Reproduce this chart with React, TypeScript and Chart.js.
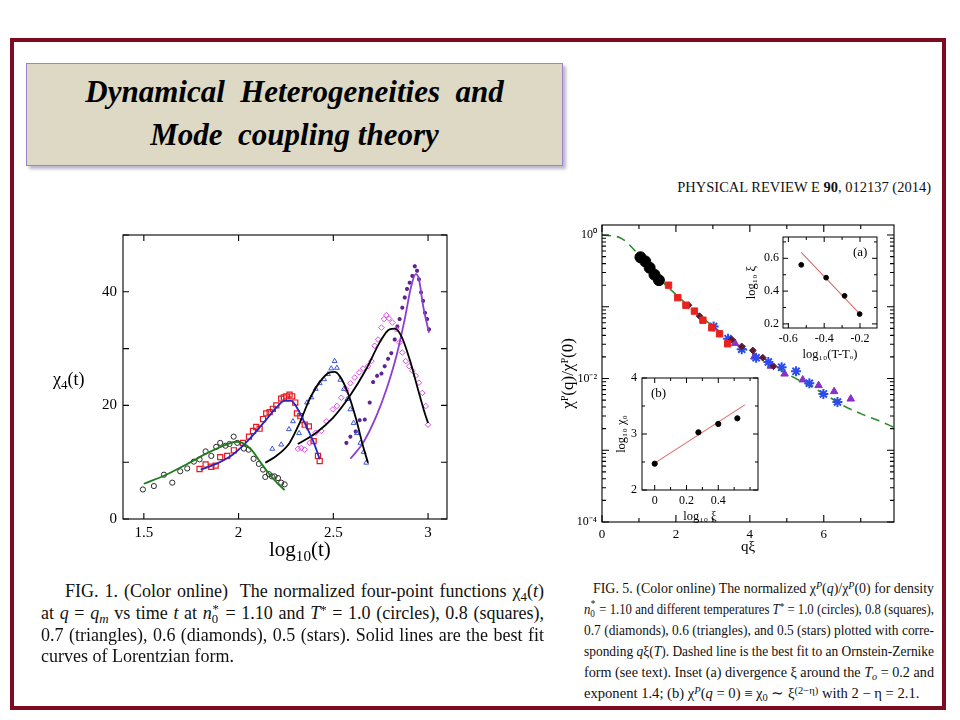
import React, { useEffect, useLayoutEffect, useRef } from 'react';
import { Chart, registerables } from 'chart.js';

Chart.register(...registerables);

const FONT = "'Liberation Serif', 'Times New Roman', Times, serif";
Chart.defaults.font.family = FONT;
Chart.defaults.color = '#000';

// ---------------- FIG. 1 data (log10 t , chi4) ----------------
const circT = [1.495, 1.553, 1.606, 1.65, 1.692, 1.729, 1.764, 1.794, 1.826, 1.856, 1.882, 1.903, 1.931, 1.952, 1.974, 1.993, 2.028, 2.053, 2.079, 2.107, 2.129, 2.141, 2.16, 2.176, 2.19, 2.208, 2.225, 2.243];
const circChi = [5.2, 5.8, 7.8, 6.4, 8.4, 8.9, 10.1, 10.5, 11.9, 11.1, 12.7, 13.4, 12.9, 13.2, 14.5, 13.4, 12.4, 12.2, 10.6, 9.7, 8.7, 7.4, 7.9, 7.5, 7.5, 7.2, 6.4, 6.1];
const greenFitT = [1.5, 1.618, 1.724, 1.829, 1.935, 1.988, 2.02, 2.067, 2.111, 2.164, 2.208, 2.243];
const greenFitChi = [6.2, 7.8, 9.6, 11.5, 13.1, 13.6, 13.4, 12.2, 10.2, 7.8, 6.2, 5.1];

const sqT = [1.794, 1.826, 1.856, 1.879, 1.903, 1.94, 1.975, 2.023, 2.055, 2.076, 2.093, 2.111, 2.129, 2.146, 2.164, 2.181, 2.199, 2.225, 2.239, 2.252, 2.269, 2.283, 2.299, 2.308, 2.326, 2.349, 2.371, 2.396, 2.419, 2.428];
const sqChi = [8.8, 9.6, 9.2, 9.4, 10.9, 11.1, 12.1, 13.4, 14.5, 15.5, 16.2, 15.9, 17.6, 18.6, 18.8, 19.4, 20.0, 21.2, 21.4, 21.6, 21.9, 21.6, 20.5, 18.6, 18.1, 16.6, 16.3, 13.7, 11.1, 10.2];
const blueFitT = [1.8, 1.882, 1.97, 2.058, 2.146, 2.199, 2.243, 2.278, 2.313, 2.357, 2.401, 2.428];
const blueFitChi = [8.7, 9.7, 11.35, 14.1, 17.5, 19.6, 20.8, 20.8, 19.3, 16.35, 13.1, 10.5];

const triT = [2.178, 2.225, 2.266, 2.287, 2.319, 2.336, 2.361, 2.384, 2.407, 2.428, 2.451, 2.472, 2.489, 2.507, 2.519, 2.537, 2.556, 2.574, 2.59, 2.607, 2.625, 2.643, 2.66, 2.674];
const triChi = [12.35, 13.1, 15.8, 17.2, 15.1, 17.2, 20.5, 21.4, 22.9, 23.9, 24.6, 25.5, 26.5, 27.8, 26.6, 24.5, 22.9, 21.1, 19.3, 16.9, 15.1, 13.4, 11.8, 9.9];
const blackFit1T = [2.141, 2.199, 2.269, 2.322, 2.375, 2.428, 2.481, 2.507, 2.533, 2.577, 2.621, 2.657, 2.683];
const blackFit1Chi = [9.9, 11.1, 13.4, 16.9, 21.1, 24.1, 25.8, 25.9, 25.2, 22.2, 17.5, 12.8, 9.9];

const diaT = [2.313, 2.331, 2.349, 2.375, 2.407, 2.437, 2.463, 2.498, 2.519, 2.542, 2.569, 2.59, 2.613, 2.636, 2.657, 2.683, 2.701, 2.718, 2.736, 2.754, 2.768, 2.78, 2.794, 2.812, 2.833, 2.85, 2.864, 2.882, 2.9, 2.917, 2.935, 2.952, 2.97, 2.988, 3.0];
const diaChi = [12.35, 12.5, 12.2, 13.4, 15.2, 15.5, 17.2, 19.3, 19.9, 21.35, 22.8, 23.9, 24.9, 25.8, 26.5, 26.9, 27.8, 30.5, 31.6, 33.7, 35.2, 35.9, 35.3, 34.6, 33.4, 31.1, 29.3, 27.8, 26.9, 26.1, 25.2, 24.0, 22.2, 19.9, 16.6];
const blackFit2T = [2.313, 2.41, 2.498, 2.586, 2.674, 2.745, 2.797, 2.824, 2.859, 2.903, 2.947, 2.982, 3.0];
const blackFit2Chi = [13.2, 15.2, 17.8, 21.6, 26.4, 31.1, 33.4, 33.5, 32.2, 28.1, 22.8, 18.7, 16.9];

const starT = [2.569, 2.59, 2.618, 2.639, 2.666, 2.692, 2.71, 2.731, 2.754, 2.771, 2.789, 2.806, 2.824, 2.838, 2.85, 2.864, 2.877, 2.889, 2.903, 2.917, 2.93, 2.942, 2.952, 2.963, 2.974, 2.984, 2.995, 3.005];
const starChi = [13.4, 14.5, 15.4, 17.4, 17.5, 20.5, 24.1, 25.2, 25.6, 26.9, 28.2, 29.2, 31.6, 33.9, 35.2, 37.2, 39.0, 40.5, 41.6, 42.8, 44.5, 43.7, 42.2, 39.9, 38.4, 36.3, 35.2, 33.4];
const purpleFitT = [2.59, 2.657, 2.727, 2.78, 2.833, 2.877, 2.912, 2.935, 2.952, 2.974, 3.005];
const purpleFitChi = [10.6, 13.4, 18.1, 22.8, 28.7, 35.2, 41.1, 43.1, 42.2, 37.5, 32.8];

const fig1XLabels = [1.5, 2, 2.5, 3];
const fig1YLabels = [0, 20, 40];

// ---------------- FIG. 5 data (q xi , chi(q)/chi(0)) ----------------
const c5Q = [1.04, 1.17, 1.29, 1.42, 1.54];
const c5V = [0.49, 0.43, 0.35, 0.28, 0.235];
const s5Q = [1.8, 2.05, 2.27, 2.5, 2.73, 2.97, 3.18, 3.4];
const s5V = [0.2, 0.134, 0.105, 0.087, 0.065, 0.051, 0.042, 0.0305];
const d5Q = [2.34, 2.64, 3.51, 3.78, 4.08, 4.35, 4.64];
const d5V = [0.105, 0.074, 0.035, 0.028, 0.0246, 0.0195, 0.0148];
const t5Q = [3.6, 4.12, 4.57, 4.94, 5.43, 5.86, 6.28, 6.73];
const t5V = [0.031, 0.02, 0.0149, 0.0116, 0.0096, 0.008, 0.0066, 0.0052];
const st5Q = [3.02, 3.41, 3.78, 4.17, 4.5, 4.86, 5.25, 5.61, 5.99, 6.37];
const st5V = [0.053, 0.0359, 0.0256, 0.0195, 0.017, 0.0144, 0.0126, 0.0086, 0.0061, 0.0047];
const ozQ = [0, 0.5, 1, 1.5, 2, 2.5, 3, 3.5, 4, 4.5, 5, 5.5, 6, 6.5, 7, 7.5, 7.9];
const ozV = [1.0, 0.912, 0.525, 0.263, 0.148, 0.0871, 0.0537, 0.0347, 0.0234, 0.0166, 0.0117, 0.00851, 0.00617, 0.00427, 0.00324, 0.00257, 0.00209];

const fig5XLabels = [0, 2, 4, 6];
const logDecades = [1e-4, 1e-3, 1e-2, 1e-1, 1];
const logLabelVals = [1, 1e-2, 1e-4];
const logLabelText = ['10\u2070', '10\u207B\u00B2', '10\u207B\u2074'];

// inset (a)
const aX = [-0.528, -0.389, -0.286, -0.202];
const aY = [0.56, 0.482, 0.371, 0.26];
const aFitX = [-0.528, -0.2];
const aFitY = [0.636, 0.26];
const aXLabels = [-0.6, -0.4, -0.2];
const aYLabels = [0.2, 0.4, 0.6];

// inset (b)
const bX = [0, 0.275, 0.4, 0.52];
const bY = [2.47, 3.03, 3.18, 3.28];
const bFitX = [0, 0.567];
const bFitY = [2.48, 3.52];
const bXLabels = [0, 0.2, 0.4];
const bYLabels = [2, 3, 4];

// ---------------- helpers ----------------
const xy = (xs: number[], ys: number[]) => xs.map((x, i) => ({ x, y: ys[i] }));

function markers(xs: number[], ys: number[], style: string, color: string, radius: number, filled: boolean, bw = 1) {
  return {
    type: 'scatter',
    data: xy(xs, ys),
    showLine: false,
    pointStyle: style,
    pointRadius: radius,
    pointBorderColor: color,
    pointBackgroundColor: filled ? color : 'rgba(0,0,0,0)',
    pointBorderWidth: bw,
    borderColor: color,
    backgroundColor: color,
  };
}

function curve(xs: number[], ys: number[], color: string, width: number, dash: number[] = [], smooth = true) {
  return {
    type: 'line',
    data: xy(xs, ys),
    showLine: true,
    pointRadius: 0,
    borderColor: color,
    borderWidth: width,
    borderDash: dash,
    cubicInterpolationMode: smooth ? 'monotone' : 'default',
    tension: 0,
    fill: false,
  };
}

const labelAt = (vals: number[], fmt: (v: number) => string = (v) => String(v)) => (v: any) => {
  const n = Number(v);
  return vals.some((u) => Math.abs(u - n) < 1e-6) ? fmt(n) : '';
};

const boxTicks = {
  id: 'boxTicks',
  afterDraw(chart: any, _args: any, opts: any) {
    const { ctx, chartArea: a, scales } = chart;
    const xs = scales.x;
    const ys = scales.y;
    ctx.save();
    ctx.strokeStyle = '#000';
    ctx.lineWidth = opts.lw || 1;
    ctx.strokeRect(a.left, a.top, a.right - a.left, a.bottom - a.top);
    ctx.beginPath();
    for (const t of xs.ticks) {
      const p = xs.getPixelForValue(t.value);
      if (p < a.left - 0.5 || p > a.right + 0.5) continue;
      const big = t.major || (t.label !== '' && t.label != null);
      const len = big ? opts.xMajor : opts.xMinor;
      ctx.moveTo(p, a.bottom);
      ctx.lineTo(p, a.bottom - len);
      ctx.moveTo(p, a.top);
      ctx.lineTo(p, a.top + len);
    }
    for (const t of ys.ticks) {
      const p = ys.getPixelForValue(t.value);
      if (p < a.top - 0.5 || p > a.bottom + 0.5) continue;
      const big = t.major || (t.label !== '' && t.label != null);
      const len = big ? opts.yMajor : opts.yMinor;
      ctx.moveTo(a.left, p);
      ctx.lineTo(a.left + len, p);
      ctx.moveTo(a.right, p);
      ctx.lineTo(a.right - len, p);
    }
    ctx.stroke();
    ctx.restore();
  },
};

type Geo = { plotL: number; plotT: number; plotR: number; plotB: number; yW: number; xH: number };
const PAD_T = 20;
const PAD_R = 10;
const canvasRect = (g: Geo) => ({
  left: g.plotL - g.yW,
  top: g.plotT - PAD_T,
  width: g.plotR + PAD_R - (g.plotL - g.yW),
  height: g.plotB + g.xH - (g.plotT - PAD_T),
});

function axisBase(fontSize: number, padding: number) {
  return {
    grid: { display: false, drawTicks: false },
    border: { display: false },
    ticks: { color: '#000', font: { size: fontSize, family: FONT }, padding, autoSkip: false, maxRotation: 0, minRotation: 0, includeBounds: false },
  };
}

function baseOptions(g: Geo, scales: any, tickOpts: any) {
  return {
    responsive: false,
    maintainAspectRatio: false,
    animation: false,
    events: [],
    layout: { padding: { left: 0, top: PAD_T, right: PAD_R, bottom: 0 } },
    plugins: { legend: { display: false }, tooltip: { enabled: false }, title: { display: false }, boxTicks: tickOpts },
    scales,
  };
}

function ChartBox({ geo, make }: { geo: Geo; make: () => any }) {
  const ref = useRef<HTMLCanvasElement>(null);
  const r = canvasRect(geo);
  useEffect(() => {
    if (!ref.current) return;
    const chart = new Chart(ref.current, make());
    return () => chart.destroy();
  }, []);
  return (
    <canvas
      ref={ref}
      width={r.width}
      height={r.height}
      style={{ position: 'absolute', left: r.left, top: r.top, width: r.width, height: r.height }}
    />
  );
}

// ---------------- chart configs ----------------
const geoFig1: Geo = { plotL: 123, plotT: 235, plotR: 447, plotB: 519, yW: 40, xH: 26 };
const geoFig5: Geo = { plotL: 602, plotT: 225, plotR: 894, plotB: 522, yW: 47, xH: 38 };
const geoA: Geo = { plotL: 783, plotT: 237, plotR: 877, plotB: 328, yW: 43, xH: 38 };
const geoB: Geo = { plotL: 642, plotT: 378, plotR: 758, plotB: 490, yW: 32, xH: 38 };

const makeFig1 = () => {
  const xa: any = axisBase(15, 5);
  const ya: any = axisBase(15, 6);
  return {
    type: 'scatter',
    data: {
      datasets: [
        curve(greenFitT, greenFitChi, '#1f7a1f', 1.8),
        curve(blueFitT, blueFitChi, '#2525c8', 1.8),
        curve(blackFit1T, blackFit1Chi, '#000000', 1.8),
        curve(blackFit2T, blackFit2Chi, '#000000', 1.8),
        curve(purpleFitT, purpleFitChi, '#8a3fd0', 1.8),
        markers(circT, circChi, 'circle', '#2b2b2b', 2.6, false, 1),
        markers(sqT, sqChi, 'rect', '#e8181c', 3.6, false, 1.2),
        markers(triT, triChi, 'triangle', '#3a55e0', 2.8, false, 1),
        markers(diaT, diaChi, 'rectRot', '#e048e8', 2.8, false, 1),
        markers(starT, starChi, 'star', '#5e2590', 2.0, false, 1.4),
      ],
    },
    options: baseOptions(
      geoFig1,
      {
        x: {
          ...xa,
          type: 'linear',
          min: 1.39,
          max: 3.1,
          afterFit: (s: any) => { s.height = geoFig1.xH; },
          ticks: { ...xa.ticks, stepSize: 0.5, callback: labelAt(fig1XLabels) },
        },
        y: {
          ...ya,
          type: 'linear',
          min: 0,
          max: 50,
          afterFit: (s: any) => { s.width = geoFig1.yW; },
          ticks: { ...ya.ticks, stepSize: 10, callback: labelAt(fig1YLabels) },
        },
      },
      { xMajor: 6, xMinor: 6, yMajor: 6, yMinor: 6, lw: 1.1 }
    ),
    plugins: [boxTicks],
  };
};

const makeFig5 = () => {
  const xa: any = axisBase(13, 5);
  const ya: any = axisBase(12, 5);
  return {
    type: 'scatter',
    data: {
      datasets: [
        markers(c5Q, c5V, 'circle', '#000000', 5.5, true, 1),
        markers(s5Q, s5V, 'rect', '#e8231f', 4.5, true, 1),
        markers(d5Q, d5V, 'rectRot', '#5a1a35', 3.4, true, 1),
        markers(st5Q, st5V, 'star', '#2d4cf0', 5, false, 2),
        markers(t5Q, t5V, 'triangle', '#8a2fc8', 4.3, true, 1),
        curve(ozQ, ozV, '#2e8b2e', 1.6, [9, 6]),
      ],
    },
    options: baseOptions(
      geoFig5,
      {
        x: {
          ...xa,
          type: 'linear',
          min: 0,
          max: 7.9,
          afterFit: (s: any) => { s.height = geoFig5.xH; },
          title: { display: true, text: 'q\u03BE', font: { size: 15, family: FONT }, color: '#000', padding: { top: 4, bottom: 4 } },
          ticks: { ...xa.ticks, stepSize: 1, callback: labelAt(fig5XLabels) },
        },
        y: {
          ...ya,
          type: 'logarithmic',
          min: 1e-4,
          max: 1.38,
          afterFit: (s: any) => { s.width = geoFig5.yW; },
          afterBuildTicks: (s: any) => {
            const out: any[] = [];
            for (const d of logDecades) {
              out.push({ value: d, major: true });
              if (d < 1) for (let m = 2; m <= 9; m++) out.push({ value: d * m, major: false });
            }
            s.ticks = out;
          },
          title: { display: true, text: '\u03C7\u1D3E(q)/\u03C7\u1D3E(0)', font: { size: 17, family: FONT }, color: '#000', padding: { top: 3, bottom: 3 } },
          ticks: {
            ...ya.ticks,
            callback: (v: any) => {
              const n = Number(v);
              const i = logLabelVals.findIndex((u) => Math.abs(Math.log10(u) - Math.log10(n)) < 1e-6);
              return i >= 0 ? logLabelText[i] : '';
            },
          },
        },
      },
      { xMajor: 7, xMinor: 4, yMajor: 7, yMinor: 4, lw: 1.1 }
    ),
    plugins: [boxTicks],
  };
};

const makeA = () => {
  const xa: any = axisBase(12, 4);
  const ya: any = axisBase(12, 4);
  return {
    type: 'scatter',
    data: {
      datasets: [
        markers(aX, aY, 'circle', '#000000', 2.4, true, 1),
        curve(aFitX, aFitY, '#e06a6a', 1.1, [], false),
      ],
    },
    options: baseOptions(
      geoA,
      {
        x: {
          ...xa,
          type: 'linear',
          min: -0.63,
          max: -0.105,
          afterFit: (s: any) => { s.height = geoA.xH; },
          title: { display: true, text: 'log\u2081\u2080(T-T\u2092)', font: { size: 12.5, family: FONT }, color: '#000', padding: { top: 4, bottom: 4 } },
          ticks: { ...xa.ticks, stepSize: 0.1, callback: labelAt(aXLabels, (v) => v.toFixed(1)) },
        },
        y: {
          ...ya,
          type: 'linear',
          min: 0.175,
          max: 0.73,
          afterFit: (s: any) => { s.width = geoA.yW; },
          title: { display: true, text: 'log\u2081\u2080 \u03BE', font: { size: 12.5, family: FONT }, color: '#000', padding: { top: 4, bottom: 4 } },
          ticks: { ...ya.ticks, stepSize: 0.1, callback: labelAt(aYLabels, (v) => v.toFixed(1)) },
        },
      },
      { xMajor: 5, xMinor: 3, yMajor: 5, yMinor: 3, lw: 1 }
    ),
    plugins: [boxTicks],
  };
};

const makeB = () => {
  const xa: any = axisBase(12, 4);
  const ya: any = axisBase(12, 5);
  return {
    type: 'scatter',
    data: {
      datasets: [
        markers(bX, bY, 'circle', '#000000', 2.6, true, 1),
        curve(bFitX, bFitY, '#e06a6a', 1.1, [], false),
      ],
    },
    options: baseOptions(
      geoB,
      {
        x: {
          ...xa,
          type: 'linear',
          min: -0.08,
          max: 0.65,
          afterFit: (s: any) => { s.height = geoB.xH; },
          title: { display: true, text: 'log\u2081\u2080 \u03BE', font: { size: 12.5, family: FONT }, color: '#000', padding: { top: 4, bottom: 4 } },
          ticks: { ...xa.ticks, stepSize: 0.1, callback: labelAt(bXLabels, (v) => String(+v.toFixed(1))) },
        },
        y: {
          ...ya,
          type: 'linear',
          min: 2,
          max: 4,
          afterFit: (s: any) => { s.width = geoB.yW; },
          title: { display: true, text: 'log\u2081\u2080 \u03C7\u2080', font: { size: 12.5, family: FONT }, color: '#000', padding: { top: 4, bottom: 4 } },
          ticks: { ...ya.ticks, stepSize: 0.5, includeBounds: true, callback: labelAt(bYLabels) },
        },
      },
      { xMajor: 5, xMinor: 3, yMajor: 5, yMinor: 3, lw: 1 }
    ),
    plugins: [boxTicks],
  };
};

// ---------------- text helpers ----------------
const Sub = ({ children }: any) => (
  <span style={{ fontSize: '0.72em', position: 'relative', top: '0.3em', lineHeight: 0 }}>{children}</span>
);
const Sup = ({ children }: any) => (
  <span style={{ fontSize: '0.72em', position: 'relative', top: '-0.42em', lineHeight: 0 }}>{children}</span>
);
const N0 = () => (
  <span>
    <i>n</i>
    <span style={{ display: 'inline-block', position: 'relative', width: '0.45em' }}>
      <span style={{ position: 'absolute', left: '0.05em', top: '-0.02em', fontSize: '0.72em', lineHeight: 1 }}>*</span>
      <span style={{ fontSize: '0.72em', position: 'relative', top: '0.3em', lineHeight: 0 }}>0</span>
    </span>
  </span>
);

function TextLine({ left, top, width, size, last = false, children }: any) {
  const ref = useRef<HTMLDivElement>(null);
  useLayoutEffect(() => {
    const el = ref.current;
    if (!el) return;
    const natural = el.getBoundingClientRect().width;
    if (natural > width) {
      el.style.transformOrigin = 'left center';
      el.style.transform = `scaleX(${width / natural})`;
    } else if (!last) {
      el.style.width = width + 'px';
      el.style.textAlign = 'justify';
      (el.style as any).textAlignLast = 'justify';
    }
  }, []);
  return (
    <div
      ref={ref}
      style={{ position: 'absolute', left, top, width: 'max-content', whiteSpace: 'nowrap', fontSize: size, lineHeight: '20px', color: '#111' }}
    >
      {children}
    </div>
  );
}

export default function App() {
  const capL = 18;
  const capR = 14.6;
  return (
    <div style={{ position: 'absolute', left: 0, top: 0, width: 960, height: 720, background: '#ffffff', overflow: 'hidden', fontFamily: FONT, color: '#000' }}>
      {/* slide frame */}
      <div style={{ position: 'absolute', left: 10, top: 38, width: 936, height: 672, border: '4px solid #7d0b22', boxSizing: 'border-box' }} />

      {/* title box */}
      <div
        style={{
          position: 'absolute', left: 26, top: 63, width: 537, height: 103, background: '#ddd9c4',
          border: '1px solid #9b84c9', boxSizing: 'border-box', boxShadow: '3px 3px 3px rgba(110,90,140,0.45)',
        }}
      >
        <div style={{ position: 'absolute', left: 0, top: 10, width: '100%', textAlign: 'center', fontSize: 31, lineHeight: '36px', fontStyle: 'italic', fontWeight: 'bold', whiteSpace: 'nowrap' }}>
          Dynamical&nbsp; Heterogeneities&nbsp; and
        </div>
        <div style={{ position: 'absolute', left: 0, top: 53, width: '100%', textAlign: 'center', fontSize: 31, lineHeight: '36px', fontStyle: 'italic', fontWeight: 'bold', whiteSpace: 'nowrap' }}>
          Mode&nbsp; coupling theory
        </div>
      </div>

      {/* journal header */}
      <div style={{ position: 'absolute', left: 600, top: 178, width: 331, textAlign: 'right', fontSize: 14.5, lineHeight: '18px', whiteSpace: 'nowrap', color: '#111' }}>
        PHYSICAL REVIEW E <b>90</b>, 012137 (2014)
      </div>

      {/* charts */}
      <ChartBox geo={geoFig1} make={makeFig1} />
      <ChartBox geo={geoFig5} make={makeFig5} />
      <ChartBox geo={geoA} make={makeA} />
      <ChartBox geo={geoB} make={makeB} />

      {/* FIG.1 axis labels */}
      <div style={{ position: 'absolute', left: 53, top: 367, fontSize: 18, lineHeight: '24px', whiteSpace: 'nowrap' }}>
        χ<Sub>4</Sub>(t)
      </div>
      <div style={{ position: 'absolute', left: 269, top: 536, fontSize: 21, lineHeight: '26px', whiteSpace: 'nowrap' }}>
        log<Sub>10</Sub>(t)
      </div>

      {/* inset tags */}
      <div style={{ position: 'absolute', left: 853, top: 244, fontSize: 13, lineHeight: '16px' }}>(a)</div>
      <div style={{ position: 'absolute', left: 651, top: 385, fontSize: 13, lineHeight: '16px' }}>(b)</div>

      {/* FIG.1 caption */}
      <TextLine left={65} top={581} width={479} size={capL}>
        FIG. 1. (Color online)&nbsp; The normalized four-point functions χ<Sub>4</Sub>(<i>t</i>)
      </TextLine>
      <TextLine left={41} top={603} width={503} size={capL}>
        at <i>q</i> = <i>q<Sub>m</Sub></i> vs time <i>t</i> at <N0 /> = 1.10 and <i>T</i><Sup>*</Sup> = 1.0 (circles), 0.8 (squares),
      </TextLine>
      <TextLine left={41} top={625} width={503} size={capL}>
        0.7 (triangles), 0.6 (diamonds), 0.5 (stars). Solid lines are the best fit
      </TextLine>
      <TextLine left={41} top={646} width={503} size={capL} last>
        curves of Lorentzian form.
      </TextLine>

      {/* FIG.5 caption */}
      <TextLine left={593} top={578} width={341} size={capR}>
        FIG. 5. (Color online) The normalized χ<Sup><i>P</i></Sup>(<i>q</i>)/χ<Sup><i>P</i></Sup>(0) for density
      </TextLine>
      <TextLine left={584} top={599} width={350} size={capR}>
        <N0 /> = 1.10 and different temperatures <i>T</i><Sup>*</Sup> = 1.0 (circles), 0.8 (squares),
      </TextLine>
      <TextLine left={584} top={620} width={350} size={capR}>
        0.7 (diamonds), 0.6 (triangles), and 0.5 (stars) plotted with corre-
      </TextLine>
      <TextLine left={584} top={641} width={350} size={capR}>
        sponding <i>q</i>ξ(<i>T</i>). Dashed line is the best fit to an Ornstein-Zernike
      </TextLine>
      <TextLine left={584} top={662} width={350} size={capR}>
        form (see text). Inset (a) divergence ξ around the <i>T<Sub>o</Sub></i> = 0.2 and
      </TextLine>
      <TextLine left={584} top={683} width={350} size={capR} last>
        exponent 1.4; (b) χ<Sup><i>P</i></Sup>(<i>q</i> = 0) ≡ χ<Sub>0</Sub> ∼ ξ<Sup>(2−η)</Sup> with 2 − η = 2.1.
      </TextLine>
    </div>
  );
}
